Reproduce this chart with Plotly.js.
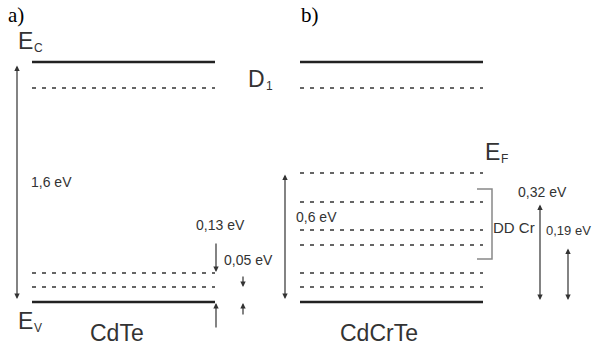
<!DOCTYPE html>
<html>
<head>
<meta charset="utf-8">
<script src="https://cdn.plot.ly/plotly-3.0.1.min.js"></script>
<style>html,body{margin:0;padding:0;background:#fff;}#chart{width:592px;height:349px;}</style>
</head>
<body>
<div id="chart"></div>
<script>
// Diagram coordinates (x: horizontal position, y: vertical position, top = 0)
const panelAx = [32, 215];
const panelBx = [300, 483];
const solidA = [62, 302];          // Ec, Ev in CdTe
const dashedA = [88, 273, 287];    // D1, 0.13 eV, 0.05 eV
const solidB = [62, 302];          // Ec, Ev in CdCrTe
const dashedB = [88, 173, 202, 230, 245, 273, 287]; // D1, EF, DD Cr levels, acceptors
const bracketX = [477, 492, 492, 477];
const bracketY = [189, 189, 259, 259];

// arrows: [x, yFrom, yTo, doubleHeaded]
const arrows = [
  [17, 64, 299, true],    // 1,6 eV
  [216, 242, 272, false], // 0,13 eV
  [216, 329, 303, false],
  [243, 275, 287, false], // 0,05 eV
  [243, 316, 303, false],
  [285, 173, 299, true],  // 0,6 eV
  [540, 203, 300, true],  // 0,32 eV
  [568, 247, 300, true]   // 0,19 eV
];

// labels: [text, x, y, size, family]
const sans = 'Liberation Sans, Arial, sans-serif';
const serif = 'Liberation Serif, Times New Roman, serif';
const labels = [
  ['a)', 6, 15, 21, serif],
  ['b)', 299, 15, 21, serif],
  ['E', 16, 41, 23, sans],
  ['C', 32, 48, 12, sans],
  ['E', 16, 321, 23, sans],
  ['V', 32, 328, 12, sans],
  ['D', 246, 79, 23, sans],
  ['1', 264, 86, 12, sans],
  ['E', 483, 152, 23, sans],
  ['F', 499, 159, 12, sans],
  ['CdTe', 88, 333, 23, sans],
  ['CdCrTe', 338, 333, 23, sans],
  ['1,6 eV', 29, 182, 14, sans],
  ['0,13 eV', 194, 225, 14, sans],
  ['0,05 eV', 222, 260, 14, sans],
  ['0,6 eV', 294, 217, 14, sans],
  ['DD Cr', 491, 227, 15, sans],
  ['0,32 eV', 516, 192, 14, sans],
  ['0,19 eV', 544, 230, 13, sans]
];

const traces = [];
function level(xr, y, dashed) {
  traces.push({
    x: xr, y: [y, y], mode: 'lines', hoverinfo: 'skip', showlegend: false,
    line: dashed ? {color: '#333', width: 1.7, dash: '4px,6px'} : {color: '#222', width: 2.3}
  });
}
solidA.forEach(y => level(panelAx, y, false));
dashedA.forEach(y => level(panelAx, y, true));
solidB.forEach(y => level(panelBx, y, false));
dashedB.forEach(y => level(panelBx, y, true));
traces.push({x: bracketX, y: bracketY, mode: 'lines', hoverinfo: 'skip', showlegend: false,
  line: {color: '#888', width: 1.5}});

const annotations = [];
arrows.forEach(a => {
  annotations.push({
    x: a[0], y: a[2], ax: a[0], ay: a[1], xref: 'x', yref: 'y', axref: 'x', ayref: 'y',
    text: '', showarrow: true, arrowhead: 2, arrowsize: 0.9, arrowwidth: 1.2,
    arrowside: a[3] ? 'end+start' : 'end', arrowcolor: '#333', startstandoff: 0, standoff: 0
  });
});
labels.forEach(l => {
  annotations.push({
    text: l[0], x: l[1], y: l[2], xref: 'x', yref: 'y', xanchor: 'left', yanchor: 'middle',
    showarrow: false, font: {family: l[4], size: l[3], color: l[4] === serif ? '#000' : '#333'}
  });
});

Plotly.newPlot('chart', traces, {
  width: 592, height: 349,
  margin: {l: 0, r: 0, t: 0, b: 0},
  paper_bgcolor: '#fff', plot_bgcolor: '#fff',
  xaxis: {range: [0, 592], visible: false, fixedrange: true},
  yaxis: {range: [349, 0], visible: false, fixedrange: true},
  annotations: annotations,
  showlegend: false
}, {staticPlot: true});
</script>
</body>
</html>
